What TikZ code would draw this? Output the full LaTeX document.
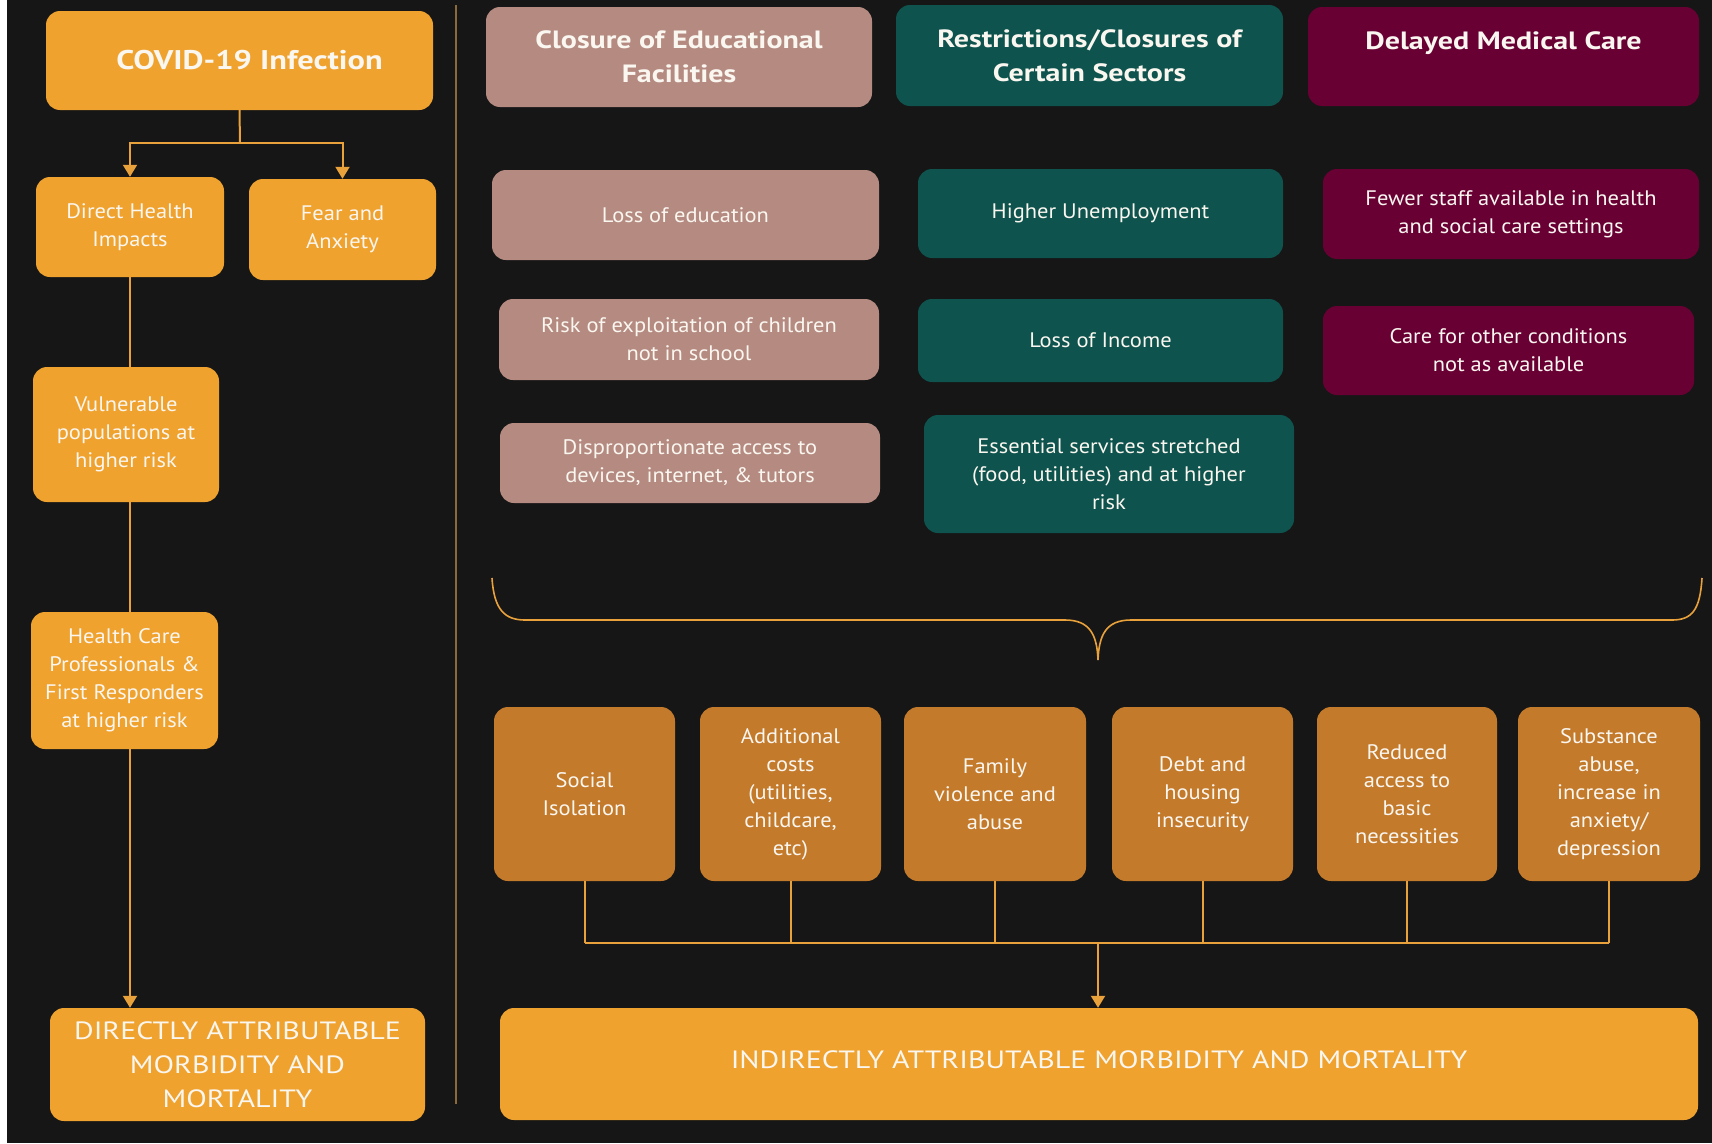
\documentclass[tikz,border=0pt]{standalone}
\usepackage{fontspec}
\setmainfont{PT Sans}[FakeStretch=1.07]
\newfontfamily\widefont{PT Sans}[FakeStretch=1.2]
\usetikzlibrary{arrows.meta}

\definecolor{bgdark}{HTML}{161616}
\definecolor{covidorange}{HTML}{F0A22E}
\definecolor{rustorange}{HTML}{C47A2B}
\definecolor{dustypink}{HTML}{B58B81}
\definecolor{deepteal}{HTML}{0E534D}
\definecolor{maroon}{HTML}{690034}
\definecolor{divider}{HTML}{8C6A3A}
\definecolor{linkgold}{HTML}{E9A23B}
\definecolor{textwhite}{HTML}{FAF6F0}

\tikzset{
  box/.style={rounded corners=14pt, inner sep=0pt, align=center, text=textwhite,
    font=\fontsize{21}{28}\selectfont},
  size/.style 2 args={minimum width=#1pt, minimum height=#2pt},
  headbox/.style={box, font=\widefont\bfseries\fontsize{25}{34}\selectfont},
  capsbox/.style={box, fill=covidorange, font=\widefont\fontsize{25}{34}\selectfont},
  link/.style={draw=linkgold, line width=2pt},
  arrow/.style={link, -{Triangle[width=14pt, length=12pt]}}
}

\begin{document}
\begin{tikzpicture}[x=1pt, y=-1pt]
    \useasboundingbox (0,0) rectangle (1712,1143);
    \fill[bgdark] (0,0) rectangle (1712,1143);
    \fill[white] (0,0) rectangle (7,1143);

    % Left column: direct effects
    \node[box, fill=covidorange, size={387}{99}, font=\widefont\bfseries\fontsize{27}{34}\selectfont] (covid) at (239.5,60.5) {\hspace*{20pt}COVID-19 Infection};
    \node[box, fill=covidorange, size={188}{100}] (direct) at (130,227) {Direct Health\\Impacts};
    \node[box, fill=covidorange, size={187}{101}] (fear) at (342.5,229.5) {Fear and\\Anxiety};
    \node[box, fill=covidorange, size={186}{135}] (vuln) at (126,434.5) {Vulnerable\\populations at\\higher risk};
    \node[box, fill=covidorange, size={187}{137}] (health) at (124.5,680.5) {Health Care\\Professionals \&\\First Responders\\at higher risk};
    \node[capsbox, size={375}{113}] (directly) at (237.5,1064.5) {DIRECTLY ATTRIBUTABLE\\MORBIDITY AND\\MORTALITY};

    % Divider between the two halves
    \draw[divider, line width=2pt] (456,5) -- (456,1104);

    % Headers of the indirect effects
    \node[headbox, fill=dustypink, size={386}{100}] (school) at (679,57) {Closure of Educational\\Facilities};
    \node[headbox, fill=deepteal, size={387}{101}] (sectors) at (1089.5,55.5) {Restrictions/Closures of\\Certain Sectors};
    \node[headbox, fill=maroon, size={391}{99}] (medical) at (1503.5,56.5) {Delayed Medical Care\\[-13pt]\strut};

    % Education column
    \node[box, fill=dustypink, size={387}{90}] (education) at (685.5,215) {Loss of education};
    \node[box, fill=dustypink, size={380}{81}] (exploit) at (689,339.5) {Risk of exploitation of children\\not in school};
    \node[box, fill=dustypink, size={380}{80}] (devices) at (690,463) {Disproportionate access to\\devices, internet, \& tutors};

    % Sectors column
    \node[box, fill=deepteal, size={365}{89}] (unemploy) at (1100.5,213.5) {Higher Unemployment};
    \node[box, fill=deepteal, size={365}{83}] (income) at (1100.5,340.5) {Loss of Income};
    \node[box, fill=deepteal, size={370}{118}] (essential) at (1109,474) {Essential services stretched\\(food, utilities) and at higher\\risk};

    % Medical care column
    \node[box, fill=maroon, size={376}{90}] (staff) at (1511,214) {Fewer staff available in health\\and social care settings};
    \node[box, fill=maroon, size={371}{89}] (conditions) at (1508.5,350.5) {Care for other conditions\\not as available};

    % Brace gathering the three columns
    \draw[linkgold, line width=1.6pt] (492,578) .. controls (494,610) and (505,620) .. (525,620) -- (1065,620)
        .. controls (1090,620) and (1097,635) .. (1098,660) .. controls (1099,635) and (1106,620) .. (1131,620)
        -- (1672,620) .. controls (1692,620) and (1700,610) .. (1702,578);

    % Consequences
    \node[box, fill=rustorange, size={181}{174}] (s1) at (584.5,794) {Social\\Isolation};
    \node[box, fill=rustorange, size={181}{174}] (s2) at (790.5,794) {Additional\\costs\\(utilities,\\childcare,\\etc)};
    \node[box, fill=rustorange, size={182}{174}] (s3) at (995,794) {Family\\violence and\\abuse};
    \node[box, fill=rustorange, size={181}{174}] (s4) at (1202.5,794) {Debt and\\housing\\insecurity};
    \node[box, fill=rustorange, size={180}{174}] (s5) at (1407,794) {Reduced\\access to\\basic\\necessities};
    \node[box, fill=rustorange, size={182}{174}] (s6) at (1609,794) {Substance\\abuse,\\increase in\\anxiety/\\depression};
    \node[capsbox, size={1198}{112}] (indirect) at (1099,1064) {\raisebox{9pt}{INDIRECTLY ATTRIBUTABLE MORBIDITY AND MORTALITY}};

    % Connectors on the left
    \coordinate (split) at (240,143);
    \draw[link] (covid.south) -- (split);
    \draw[arrow] (split) -| (direct.north);
    \draw[arrow] (split) -| (fear.north);
    \draw[link] (direct.south) -- (direct.south |- vuln.north);
    \draw[link] (direct.south |- vuln.south) -- (direct.south |- health.north);
    \draw[arrow] (direct.south |- health.south) -- (direct.south |- directly.north);

    % Connectors at the bottom
    \coordinate (bus) at (1098,943);
    \foreach \b in {s1,s2,s3,s4,s5,s6}
        \draw[link] (\b.south) -- (\b.south |- bus);
    \draw[link] (s1.south |- bus) -- (s6.south |- bus);
    \draw[arrow] (bus) -- (bus |- indirect.north);
\end{tikzpicture}
\end{document}
